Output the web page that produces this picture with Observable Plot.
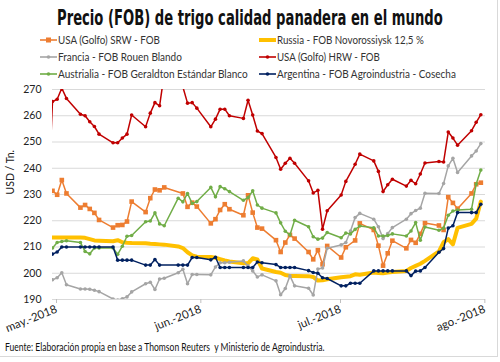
<!DOCTYPE html>
<html>
<head>
<meta charset="utf-8">
<script src="https://cdn.jsdelivr.net/npm/d3@7"></script>
<script src="https://cdn.jsdelivr.net/npm/@observablehq/plot@0.6"></script>
<style>
  html, body { margin: 0; padding: 0; background: #fff; }
  #wrap { position: relative; width: 500px; height: 362px; overflow: hidden; background: #fff; }
  #chart, #overlay { position: absolute; left: 0; top: 0; }
  #border { position: absolute; left: -2px; top: -2px; width: 498px; height: 357px; border: 1px solid #d9d9d9; pointer-events: none; }
</style>
</head>
<body>
<div id="wrap">
  <div id="chart"></div>
  <div id="overlay"></div>
  <div id="border"></div>
</div>
<script>
// ---- Data (USD / Tn.) ----
const days = [
  "2018-04-30","2018-05-01","2018-05-02","2018-05-03","2018-05-04",
  "2018-05-07","2018-05-08","2018-05-09","2018-05-10","2018-05-11",
  "2018-05-14","2018-05-15","2018-05-16","2018-05-17","2018-05-18",
  "2018-05-21","2018-05-22","2018-05-23","2018-05-24","2018-05-25",
  "2018-05-28","2018-05-29","2018-05-30","2018-05-31","2018-06-01",
  "2018-06-04","2018-06-05","2018-06-06","2018-06-07","2018-06-08",
  "2018-06-11","2018-06-12","2018-06-13","2018-06-14","2018-06-15",
  "2018-06-18","2018-06-19","2018-06-20","2018-06-21","2018-06-22",
  "2018-06-25","2018-06-26","2018-06-27","2018-06-28","2018-06-29",
  "2018-07-02","2018-07-03","2018-07-04","2018-07-05","2018-07-06",
  "2018-07-09","2018-07-10","2018-07-11","2018-07-12","2018-07-13",
  "2018-07-16","2018-07-17","2018-07-18","2018-07-19","2018-07-20",
  "2018-07-23","2018-07-24","2018-07-25","2018-07-26","2018-07-27",
  "2018-07-30","2018-07-31","2018-08-01"
];

const usaSRW = [
  null,231.4,229.9,235.5,230.4,
  225,226,224.5,223,220.3,
  217.4,218.3,218.4,219.7,227.3,
  223.3,228.6,231.9,231.6,232.7,
  null,230.4,225.3,226.9,225.4,
  219,220.6,224.1,226.3,224.4,
  222.1,229.7,223.1,217.4,217,
  212.6,208.1,211.7,214.6,213.2,
  208.1,205.3,208.8,203.4,210.4,
  206,209.9,null,212.5,219,
  216.5,210.5,202.9,207.6,212.4,
  209.5,212.7,211.6,215,219.1,
  218.2,216.5,229,226.8,224.6,
  230.4,233.9,234.5
];

const russia = [
  null,213.6,213.6,213.6,213.6,
  213.6,213.5,213,212.5,212.4,
  212.2,212.6,211.8,211.6,211.5,
  211.4,211.2,211.1,211,210.9,
  210.2,209.6,208,206.8,206.3,
  206.2,205.9,205.4,204.9,204.5,
  203.8,203.8,205.7,205.3,201.8,
  200.5,200.2,199.3,199,199,
  198.9,198.6,197.2,197.3,197.7,
  198.5,198.7,198.9,199.6,199.4,
  200.3,200.1,200,200.3,200.5,
  200.9,202,202.8,203.6,204.7,
  208.3,211.8,213,211,217.3,
  218.8,220.8,227.3
];

const francia = [
  null,197.5,198.3,200.2,195.6,
  194,194,193.9,193.5,193,
  190.2,189.8,190.3,191,192.9,
  196,196.6,193.8,197.8,198.1,
  200.2,201.5,196,199.5,199.5,
  199.4,202.4,204,204,204.2,
  204.7,202.8,200.9,198.6,199.4,
  197.1,191.8,194.2,199,195.2,
  194.3,191.7,201.6,202,209.5,
  210.8,211.7,216.1,221.2,222.8,
  220.6,217.7,213.2,215.1,217.4,
  220.6,222.7,223.9,224.8,230.5,
  230.4,234.2,240.9,243.8,238.4,
  244.7,246.6,249.4
];

const usaHRW = [
  224,265.4,266.3,270.5,266.6,
  260.6,260,257.7,255.9,253,
  249.7,249.7,251.5,253,260.3,
  255.8,261,265,263.8,276,
  null,271,264.8,265,262.9,
  255.8,258.7,262.5,262.5,260,
  259,265.9,260.3,254.2,253.2,
  244.1,239.6,241.9,243.8,241.9,
  235.2,230.6,231.6,216.8,223.8,
  229.8,235,null,241.5,245.4,
  242.8,238.8,231.1,233.7,235.8,
  233.2,235.4,234.1,237.8,242,
  242.6,242.4,253.8,251.5,248.8,
  254.3,257.5,260.4
];

const australia = [
  null,209.6,211.7,212.1,212.4,
  211.7,208.3,207.4,209.6,209.6,
  209.6,207.2,210.3,214.1,214.4,
  219.6,219.9,223,218.8,218.1,
  228.6,227.2,230.4,226.6,227.3,
  232.7,229.1,233,232.2,231.1,
  227.8,228.8,231.4,226,224.8,
  223,219.2,216,214.6,220.2,
  217.7,213.9,213,213.4,215.5,
  213.5,215.3,215,216.7,218,
  217.3,214.2,214.2,214.4,215,
  214.2,216.1,219.3,212.6,217.6,
  216.4,217.2,222.1,223.7,224.1,
  224.4,234,239.3
];

const argentina = [
  null,207.3,208.1,210,210,
  210,210,210,210,210,
  210,205,205,205,205,
  203.1,203.1,205.2,203.1,null,
  203.1,203.1,203.1,206,206,
  205.1,206.1,202.2,202.2,202.2,
  202.2,202.2,202.2,204.3,204,
  203.3,202.2,202.2,202.2,202.2,
  201,200.3,200,198.3,198,
  195.2,195.2,196.2,196.2,196.2,
  200.9,200.9,200.9,200.9,200.9,
  200.9,199.1,200.8,200.9,202.2,
  208,209.4,217.2,218.1,223.1,
  223.1,223.1,226.3
];

const seriesNames = [
  "USA (Golfo) SRW - FOB",
  "Russia - FOB Novorossiysk 12,5 %",
  "Francia - FOB Rouen Blando",
  "USA (Golfo) HRW - FOB",
  "Austrialia - FOB Geraldton Estándar Blanco",
  "Argentina - FOB Agroindustria - Cosecha"
];
const seriesValues = [usaSRW, russia, francia, usaHRW, australia, argentina];
const seriesColors = ["#ED7D31", "#FFC000", "#A5A5A5", "#C00000", "#70AD47", "#002060"];

const yTicks = [190, 200, 210, 220, 230, 240, 250, 260, 270];
const xTickDates = ["2018-05-01", "2018-06-01", "2018-07-01", "2018-08-01"];
const xTickLabels = ["may.-2018", "jun.-2018", "jul.-2018", "ago.-2018"];
const yLabel = "USD / Tn.";
const titleText = "Precio (FOB) de trigo calidad panadera en el mundo";
const caption = "Fuente: Elaboración propia en base a Thomson Reuters  y Ministerio de Agroindustria.";

// ---- Build chart ----
const parse = d3.utcParse("%Y-%m-%d");
const series = seriesNames.map((name, k) => ({
  name, color: seriesColors[k],
  rows: days.map((d, i) => ({date: parse(d), value: seriesValues[k][i]})).filter(r => r.value != null)
}));
const xTicks = xTickDates.map(parse);
const labelOf = new Map(xTicks.map((t, i) => [+t, xTickLabels[i]]));

const marks = [
  Plot.gridY(yTicks, {stroke: "#d9d9d9", strokeOpacity: 1, strokeWidth: 1}),
  Plot.axisY(yTicks, {tickSize: 0, tickPadding: 11, label: null, fontSize: 10.5, fill: "#222"}),
  Plot.axisX(xTicks, {tickSize: 4, tickPadding: 5, tickRotate: -22, label: null, fontSize: 11.5,
    stroke: "#bfbfbf", fill: "#222", dx: 4, tickFormat: d => labelOf.get(+d)}),
  Plot.text([yLabel], {frameAnchor: "left", rotate: -90, dx: -42, fontSize: 10.5, fill: "#222"})
];
series.forEach((s, k) => {
  const thick = k === 1;
  marks.push(Plot.line(s.rows, {x: "date", y: "value", stroke: s.color,
    strokeWidth: thick ? 4 : 1.5, clip: true, curve: "linear"}));
  if (!thick) {
    if (k === 0) {
      marks.push(Plot.dot(s.rows, {x: "date", y: "value", symbol: "square", r: 2.6, fill: s.color, stroke: "none", clip: true}));
    } else {
      marks.push(Plot.dot(s.rows, {x: "date", y: "value", r: 1.8, fill: s.color, stroke: "none", clip: true}));
    }
  }
});

const chart = Plot.plot({
  width: 500, height: 362,
  marginTop: 89, marginBottom: 63, marginLeft: 52, marginRight: 15,
  x: {type: "utc", domain: [parse("2018-05-01"), parse("2018-08-02")]},
  y: {domain: [190, 270]},
  style: {fontFamily: "Lato, 'Open Sans', sans-serif", background: "transparent", overflow: "visible"},
  marks
});
document.getElementById("chart").appendChild(chart);

// ---- Title, legend, caption (overlay SVG, widths fitted to the reference) ----
const ov = d3.create("svg").attr("width", 500).attr("height", 362)
  .style("font-family", "Lato, 'Open Sans', sans-serif");
document.getElementById("overlay").appendChild(ov.node());

// fit a text element horizontally to a target width by scaling (keeps its glyph height)
function fitText(sel, x, y, target) {
  const w = sel.node().getComputedTextLength() || target;
  sel.attr("x", 0).attr("y", 0).attr("transform", `translate(${x},${y}) scale(${target / w},1)`);
}

const title = ov.append("text").attr("font-family", "'DejaVu Sans', sans-serif").attr("font-weight", "bold")
  .attr("font-size", 21).attr("fill", "#111").text(titleText);
fitText(title, 57, 25, 386);

const legX = [40, 259, 40, 259, 40, 259];
const legY = [40, 40, 57, 57, 74, 74];
const legW = [102, 147, 124, 103, 190, 179];
series.forEach((s, k) => {
  const g = ov.append("g").attr("transform", `translate(${legX[k]},${legY[k]})`);
  g.append("line").attr("x1", 0).attr("x2", 17).attr("y1", 0).attr("y2", 0)
    .attr("stroke", s.color).attr("stroke-width", k === 1 ? 4 : 1.6);
  if (k === 0) g.append("rect").attr("x", 6).attr("y", -2.5).attr("width", 5).attr("height", 5).attr("fill", s.color);
  else if (k !== 1) g.append("circle").attr("cx", 8.5).attr("cy", 0).attr("r", 1.8).attr("fill", s.color);
  const t = g.append("text").attr("font-size", 12).attr("fill", "#333").text(s.name);
  fitText(t, 18, 4.2, legW[k]);
});

const cap = ov.append("text").attr("font-size", 10.5).attr("fill", "#111")
  .style("white-space", "pre").text(caption);
fitText(cap, 5, 351, 320);
</script>
</body>
</html>
